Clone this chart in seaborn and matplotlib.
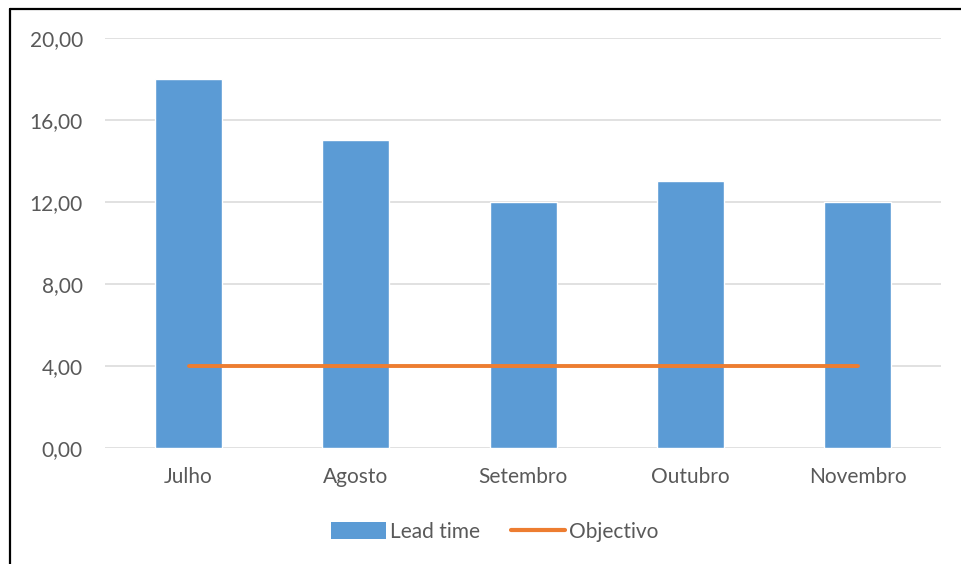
import numpy as np
import pandas as pd
import matplotlib
matplotlib.use("Agg")
import matplotlib.pyplot as plt
import seaborn as sns
from matplotlib.lines import Line2D
from matplotlib.patches import Patch

meses = ["Julho", "Agosto", "Setembro", "Outubro", "Novembro"]
lead_time = [18, 15, 12, 13, 12]
objectivo = [4, 4, 4, 4, 4]

sns.set_theme(style="white")
plt.rcParams["font.family"] = ["Lato", "DejaVu Sans"]

df = pd.DataFrame({"mes": meses, "lead_time": lead_time, "objectivo": objectivo})

fig = plt.figure(figsize=(9.61, 5.64), dpi=100)
ax = fig.add_axes([0.1093, 0.2057, 0.870, 0.727])

azul = "#5B9BD5"
laranja = "#ED7D31"
cinza = "#595959"

sns.barplot(data=df, x="mes", y="lead_time", color=azul, width=0.4,
            saturation=1, ax=ax, zorder=2)
sns.lineplot(x=np.arange(len(meses)), y=df["objectivo"], color=laranja,
             linewidth=2.8, ax=ax, zorder=3, solid_capstyle="round")

ax.set_ylim(0, 20)
ax.set_yticks([0, 4, 8, 12, 16, 20])
ax.set_yticklabels([f"{v:.2f}".replace(".", ",") for v in [0, 4, 8, 12, 16, 20]])
ax.set_xlim(-0.5, len(meses) - 0.5)
ax.yaxis.grid(True, color="#D9D9D9", linewidth=1.1)
ax.set_axisbelow(True)
for s in ax.spines.values():
    s.set_visible(False)
ax.set_xlabel("")
ax.set_ylabel("")
ax.tick_params(axis="both", length=0, labelsize=15, labelcolor=cinza)
ax.tick_params(axis="y", pad=16)
ax.tick_params(axis="x", pad=14)

# moldura (só esquerda e topo visíveis)
fig.add_artist(Line2D([10 / 961, 10 / 961], [1 - 9 / 564, 0], color="black", linewidth=1.6))
fig.add_artist(Line2D([10 / 961, 1], [1 - 9 / 564, 1 - 9 / 564], color="black", linewidth=1.6))

handles = [Patch(facecolor=azul, edgecolor="none", label="Lead time"),
           Line2D([0], [0], color=laranja, linewidth=3, label="Objectivo")]
fig.legend(handles=handles, loc="center", bbox_to_anchor=(495 / 961, 1 - 532 / 564),
           ncol=2, frameon=False, fontsize=15, labelcolor=cinza,
           handlelength=2.6, handleheight=0.9, handletextpad=0.2, columnspacing=1.5)

fig.savefig("out.png", dpi=100)
